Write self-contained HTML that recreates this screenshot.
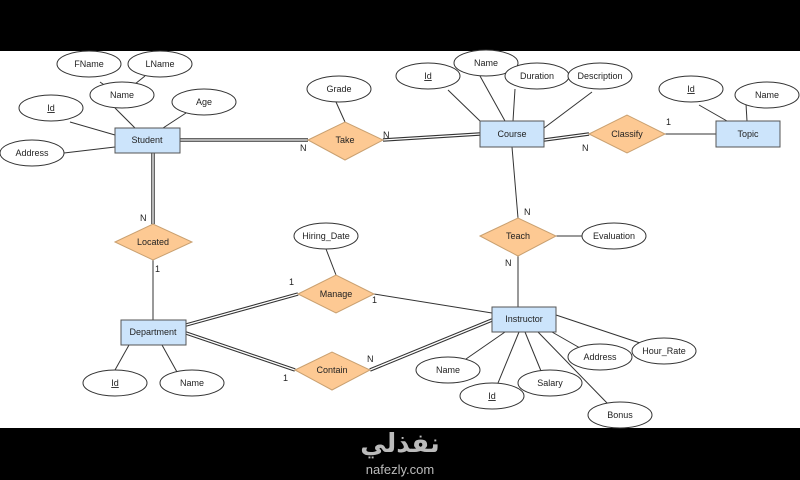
<!DOCTYPE html>
<html><head><meta charset="utf-8"><style>
html,body{margin:0;padding:0;background:#000;width:800px;height:480px;overflow:hidden}
svg{display:block}
text{font-family:"Liberation Sans",Arial,sans-serif;font-size:9px;fill:#222}
</style></head><body>
<svg width="800" height="480" viewBox="0 0 800 480" xmlns="http://www.w3.org/2000/svg">
<rect x="0" y="0" width="800" height="480" fill="#000"/>
<rect x="0" y="51" width="800" height="377" fill="#fff"/>
<g stroke="#333" stroke-width="1" fill="none">
<!-- student attrs -->
<line x1="100" y1="82" x2="110" y2="89"/><line x1="145" y1="76" x2="135" y2="84"/>
<line x1="115" y1="108" x2="135" y2="128"/><line x1="186" y1="113" x2="163" y2="128"/>
<line x1="70" y1="122" x2="115" y2="135"/><line x1="64" y1="153" x2="115" y2="147"/>
<line x1="336" y1="102" x2="345" y2="122"/>
<!-- course attrs -->
<line x1="448" y1="90" x2="480" y2="121"/><line x1="480" y1="76" x2="505" y2="121"/>
<line x1="515" y1="89" x2="513" y2="121"/><line x1="592" y1="92" x2="544" y2="128"/>
<line x1="699" y1="105" x2="727" y2="121"/><line x1="746" y1="104" x2="747" y2="121"/>
<line x1="665" y1="134" x2="716" y2="134"/>
<line x1="512" y1="147" x2="518" y2="218"/>
<line x1="556" y1="236" x2="582" y2="236"/>
<line x1="518" y1="256" x2="518" y2="307"/>
<line x1="153" y1="260" x2="153" y2="320"/>
<line x1="326" y1="249" x2="336" y2="275"/>
<line x1="374" y1="294" x2="492" y2="313"/>
<!-- department attrs -->
<line x1="129" y1="345" x2="115" y2="370"/><line x1="162" y1="345" x2="177" y2="372"/>
<!-- instructor attrs -->
<line x1="505" y1="332" x2="466" y2="359"/><line x1="519" y1="332" x2="498" y2="383"/>
<line x1="525" y1="332" x2="541" y2="371"/><line x1="538" y1="332" x2="608" y2="404"/>
<line x1="552" y1="332" x2="580" y2="348"/><line x1="556" y1="315" x2="640" y2="343"/>
</g>
<!-- double lines -->
<g stroke="#333" stroke-width="3.5" fill="none">
<line x1="180" y1="140" x2="308" y2="140"/>
<line x1="383" y1="140" x2="480" y2="134"/>
<line x1="544" y1="140" x2="589" y2="134"/>
<line x1="153" y1="153" x2="153" y2="224"/>
<line x1="186" y1="325" x2="298" y2="294"/>
<line x1="186" y1="333" x2="295" y2="370"/>
<line x1="370" y1="370" x2="492" y2="320"/>
</g>
<g stroke="#fff" stroke-width="1.3" fill="none">
<line x1="180" y1="140" x2="308" y2="140"/>
<line x1="383" y1="140" x2="480" y2="134"/>
<line x1="544" y1="140" x2="589" y2="134"/>
<line x1="153" y1="153" x2="153" y2="224"/>
<line x1="186" y1="325" x2="298" y2="294"/>
<line x1="186" y1="333" x2="295" y2="370"/>
<line x1="370" y1="370" x2="492" y2="320"/>
</g>
<!-- ellipses -->
<g fill="#fff" stroke="#333" stroke-width="1">
<ellipse cx="89" cy="64" rx="32" ry="13"/><ellipse cx="160" cy="64" rx="32" ry="13"/>
<ellipse cx="122" cy="95" rx="32" ry="13"/><ellipse cx="51" cy="108" rx="32" ry="13"/>
<ellipse cx="204" cy="102" rx="32" ry="13"/><ellipse cx="32" cy="153" rx="32" ry="13"/>
<ellipse cx="339" cy="89" rx="32" ry="13"/>
<ellipse cx="428" cy="76" rx="32" ry="13"/><ellipse cx="486" cy="63" rx="32" ry="13"/>
<ellipse cx="537" cy="76" rx="32" ry="13"/><ellipse cx="600" cy="76" rx="32" ry="13"/>
<ellipse cx="691" cy="89" rx="32" ry="13"/><ellipse cx="767" cy="95" rx="32" ry="13"/>
<ellipse cx="614" cy="236" rx="32" ry="13"/><ellipse cx="326" cy="236" rx="32" ry="13"/>
<ellipse cx="115" cy="383" rx="32" ry="13"/><ellipse cx="192" cy="383" rx="32" ry="13"/>
<ellipse cx="448" cy="370" rx="32" ry="13"/><ellipse cx="492" cy="396" rx="32" ry="13"/>
<ellipse cx="550" cy="383" rx="32" ry="13"/><ellipse cx="600" cy="357" rx="32" ry="13"/>
<ellipse cx="664" cy="351" rx="32" ry="13"/><ellipse cx="620" cy="415" rx="32" ry="13"/>
</g>
<!-- entities -->
<g fill="#cce4fb" stroke="#555" stroke-width="1">
<rect x="115" y="128" width="65" height="25"/><rect x="480" y="121" width="64" height="26"/>
<rect x="716" y="121" width="64" height="26"/><rect x="121" y="320" width="65" height="25"/>
<rect x="492" y="307" width="64" height="25"/>
</g>
<!-- diamonds -->
<g fill="#fdc993" stroke="#c9a070" stroke-width="1">
<polygon points="308,140 345,122 383,140 345,160"/>
<polygon points="115,242 153,224 192,242 153,260"/>
<polygon points="589,134 627,115 665,134 627,153"/>
<polygon points="480,236 518,218 556,236 518,256"/>
<polygon points="298,294 336,275 374,294 336,313"/>
<polygon points="295,370 332,352 370,370 332,390"/>
</g>
<g text-anchor="middle">
<text x="89" y="67">FName</text><text x="160" y="67">LName</text><text x="122" y="98">Name</text>
<text x="51" y="111" text-decoration="underline">Id</text><text x="204" y="105">Age</text><text x="32" y="156">Address</text>
<text x="339" y="92">Grade</text>
<text x="428" y="79" text-decoration="underline">Id</text><text x="486" y="66">Name</text>
<text x="537" y="79">Duration</text><text x="600" y="79">Description</text>
<text x="691" y="92" text-decoration="underline">Id</text><text x="767" y="98">Name</text>
<text x="614" y="239">Evaluation</text><text x="326" y="239">Hiring_Date</text>
<text x="115" y="386" text-decoration="underline">Id</text><text x="192" y="386">Name</text>
<text x="448" y="373">Name</text><text x="492" y="399" text-decoration="underline">Id</text>
<text x="550" y="386">Salary</text><text x="600" y="360">Address</text>
<text x="664" y="354">Hour_Rate</text><text x="620" y="418">Bonus</text>
<text x="147" y="143">Student</text><text x="512" y="137">Course</text><text x="748" y="137">Topic</text>
<text x="153" y="335">Department</text><text x="524" y="322">Instructor</text>
<text x="345" y="143">Take</text><text x="153" y="245">Located</text><text x="627" y="137">Classify</text>
<text x="518" y="239">Teach</text><text x="336" y="297">Manage</text><text x="332" y="373">Contain</text>
</g>
<g font-size="8">
<text x="300" y="151">N</text><text x="383" y="138">N</text><text x="582" y="151">N</text><text x="666" y="125">1</text>
<text x="140" y="221">N</text><text x="155" y="272">1</text><text x="524" y="215">N</text><text x="505" y="266">N</text>
<text x="289" y="285">1</text><text x="372" y="303">1</text><text x="283" y="381">1</text><text x="367" y="362">N</text>
</g>
<text x="400" y="452" text-anchor="middle" style="font-family:'Noto Sans CJK SC','DejaVu Sans',sans-serif;font-size:26px;font-weight:bold;fill:#bbb">نفذلي</text>
<text x="400" y="474" text-anchor="middle" style="font-size:13px;fill:#bbb">nafezly.com</text>
</svg>
</body></html>
